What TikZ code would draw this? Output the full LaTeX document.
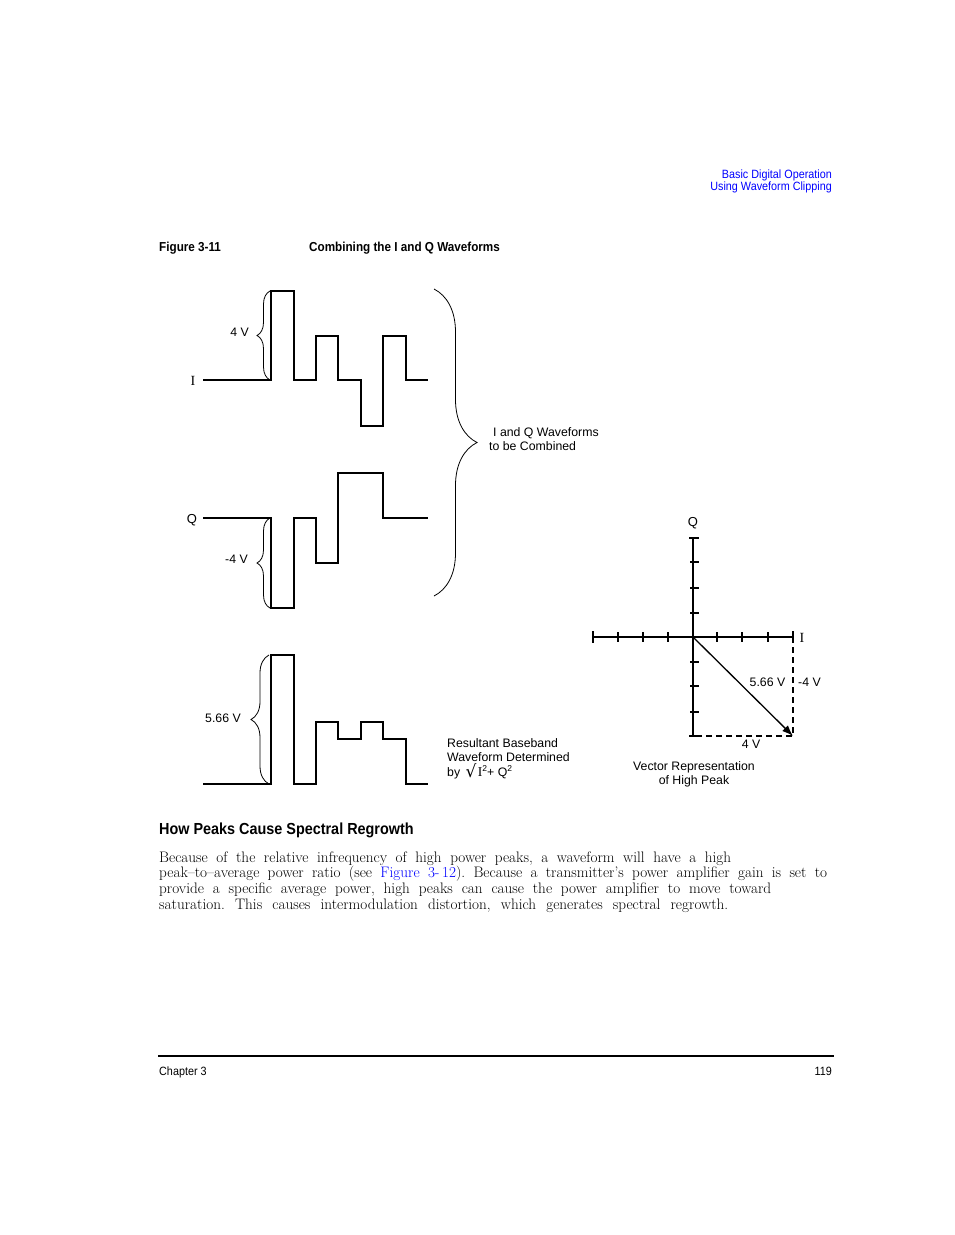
\documentclass[tikz,border=0pt]{standalone}
\usepackage{fontspec}
\newfontfamily\cond[FakeStretch=0.9]{Liberation Sans}
\newfontfamily\arial{Liberation Sans}
\newfontfamily\tms{Liberation Serif}
\newfontfamily\djv{DejaVu Sans}
\usetikzlibrary{decorations.pathreplacing,arrows.meta}
\definecolor{linkblue}{RGB}{0,0,255}
\frenchspacing
\tikzset{
  wave/.style={line width=2.9pt, line join=miter},
  cbrace/.style={decorate, decoration={brace, amplitude=#1}, line width=0.8pt},
  cbrace/.default=14,
  axisline/.style={line width=2.8pt},
  tickmark/.style={line width=2pt},
  dashline/.style={line width=1.5pt, dash pattern=on 6pt off 4pt},
  lab/.style={font=\arial\fontsize{12.3}{14}\selectfont, inner sep=0pt},
  hdr/.style={font=\cond\fontsize{12}{14}\selectfont, inner sep=0pt},
  hdrb/.style={font=\cond\bfseries\fontsize{13}{15}\selectfont, inner sep=0pt},
  body/.style={font=\fontsize{15.2}{16}\selectfont, inner sep=0pt, anchor=base west},
}
\begin{document}
\begin{tikzpicture}[x=1pt,y=-1pt]
\useasboundingbox[fill=white] (0,0) rectangle (954,1235);

% header
\node[hdr, text=linkblue, anchor=base east] (h1) at (832,178) {Basic Digital Operation};
\node[hdr, text=linkblue, anchor=base east] (h2) at (832,190.5) {Using Waveform Clipping};
\node[hdrb, anchor=base west] (fig) at (159,251.5) {Figure 3-11};
\node[hdrb, anchor=base west] (cap) at (309,251.5) {Combining the I and Q Waveforms};

% I waveform
\draw[wave] (203,380) -| (271,291) -| (294,380) -| (316,336) -| (338,380) -| (361,426) -| (383,336) -| (406,380) -- (428,380);
\draw[cbrace=13] (270,380) -- (270,291);
\node[lab, anchor=base east] (i4v) at (249,336) {4 V};
\node[font=\tms\fontsize{14}{14}\selectfont, inner sep=0pt, anchor=base] (ilab) at (193,385.5) {I};

% Q waveform
\draw[wave] (203,518) -| (271,608) -| (294,518) -| (316,563) -| (338,473) -| (383,518) -- (428,518);
\draw[cbrace=13] (270,608) -- (270,518);
\node[lab, anchor=base east] (qm4v) at (248,563) {-4 V};
\node[font=\arial\fontsize{13}{13}\selectfont, inner sep=0pt, anchor=base] (qlab) at (192,523) {Q};

% big brace
\draw[cbrace=43] (434,289) -- (434,596);
\node[lab, anchor=base west] (iq1) at (493,436) {I and Q Waveforms};
\node[lab, anchor=base west] (iq2) at (489,450) {to be Combined};

% resultant waveform
\draw[wave] (203,784) -| (271,655) -| (294,784) -| (316,722) -| (338,739) -| (361,722) -| (383,739) -| (406,784) -- (428,784);
\draw[cbrace=18] (269,784) -- (269,655);
\node[lab, anchor=base east] (r566) at (241,722) {5.66 V};
\node[lab, anchor=base west] (rb1) at (447,747) {Resultant Baseband};
\node[lab, anchor=base west] (rb2) at (447,761) {Waveform Determined};
\node[lab, anchor=base west] (rb3) at (447,776) {by \,\raisebox{-1.5pt}{\djv\fontsize{17}{17}\selectfont √}\kern1.5pt{\tms\fontsize{13.5}{13}\selectfont I}\raisebox{5pt}{\fontsize{8.5}{8}\selectfont 2}+ Q\raisebox{5pt}{\fontsize{8.5}{8}\selectfont 2}};

% vector diagram
\coordinate (O) at (693,637);
\coordinate (P) at (793,736);
\coordinate (Ix) at (793,637);
\coordinate (Qy) at (693,736);
\draw[axisline] (593,637) -- (793,637);
\draw[axisline] (693,538) -- (693,736);
\foreach \x in {618,643,668,717,742,768} \draw[tickmark] (\x,632) -- (\x,642);
\foreach \x in {593,793} \draw[tickmark] (\x,631) -- (\x,643);
\foreach \y in {562,588,613,662,686,712} \draw[tickmark] (690,\y) -- (699,\y);
\foreach \y in {538,736} \draw[tickmark] (689,\y) -- (699,\y);
\draw[dashline] (Ix) -- (P) -- (Qy);
\draw[line width=1.3pt, -{Latex[length=11pt,width=8pt]}] (O) -- (P);
\node[font=\arial\fontsize{13}{13}\selectfont, inner sep=0pt, anchor=base] (vq) at (693,526.5) {Q};
\node[font=\tms\fontsize{14}{14}\selectfont, inner sep=0pt, anchor=base] (vi) at (802,642.5) {I};
\node[lab, anchor=base] (v566) at (767.5,686) {5.66 V};
\node[lab, anchor=base west] (vm4) at (798,686) {-4 V};
\node[lab, anchor=base] (v4) at (751,748) {4 V};
\node[lab, anchor=base] (vr1) at (694,770) {Vector Representation};
\node[lab, anchor=base] (vr2) at (694,784) {of High Peak};

% heading and body
\node[font=\cond\bfseries\fontsize{16}{18}\selectfont, inner sep=0pt, anchor=base west] (head) at (159,834.5) {How Peaks Cause Spectral Regrowth};
\node[body] (b1) at (159,862) {\makebox[572pt][s]{Because of the relative infrequency of high power peaks, a waveform will have a high}};
\node[body] (b2) at (159,877.5) {\makebox[668pt][s]{peak–to–average power ratio (see \textcolor{linkblue}{Figure 3-\,12}). Because a transmitter’s power amplifier gain is set to}};
\node[body] (b3) at (159,893) {\makebox[612pt][s]{provide a specific average power, high peaks can cause the power amplifier to move toward}};
\node[body] (b4) at (159,909) {\makebox[569pt][s]{saturation. This causes intermodulation distortion, which generates spectral regrowth.}};

% footer
\draw[line width=2pt] (158,1056) -- (834,1056);
\node[hdr, anchor=base west] (ch) at (159,1075) {Chapter 3};
\node[hdr, anchor=base east] (pg) at (832,1075) {119};
\end{tikzpicture}
\end{document}
